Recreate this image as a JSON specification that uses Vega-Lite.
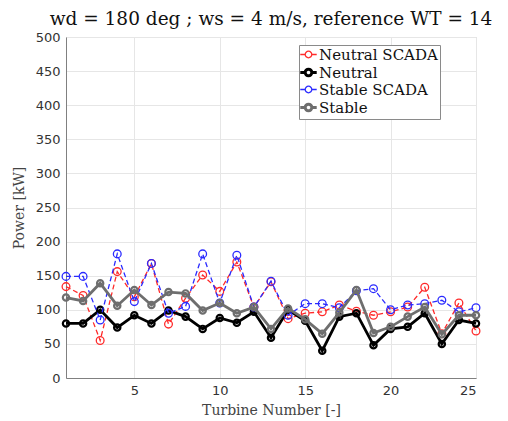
{
  "$schema": "https://vega.github.io/schema/vega-lite/v6.json",
  "width": 410,
  "height": 341,
  "autosize": "none",
  "padding": {"left": 66, "top": 37, "right": 32, "bottom": 43},
  "background": "white",
  "title": {"text": "wd = 180 deg ; ws = 4 m/s, reference WT = 14", "font": "DejaVu Serif", "fontSize": 18.5, "fontWeight": "normal", "color": "#111", "anchor": "middle", "offset": 3},
  "datasets": {
    "pw": [
      {"turbine": 1, "series": "Neutral SCADA", "power": 134}, {"turbine": 2, "series": "Neutral SCADA", "power": 121}, {"turbine": 3, "series": "Neutral SCADA", "power": 55}, {"turbine": 4, "series": "Neutral SCADA", "power": 156}, {"turbine": 5, "series": "Neutral SCADA", "power": 119}, {"turbine": 6, "series": "Neutral SCADA", "power": 168}, {"turbine": 7, "series": "Neutral SCADA", "power": 79}, {"turbine": 8, "series": "Neutral SCADA", "power": 117}, {"turbine": 9, "series": "Neutral SCADA", "power": 151}, {"turbine": 10, "series": "Neutral SCADA", "power": 127}, {"turbine": 11, "series": "Neutral SCADA", "power": 170}, {"turbine": 12, "series": "Neutral SCADA", "power": 104}, {"turbine": 13, "series": "Neutral SCADA", "power": 141}, {"turbine": 14, "series": "Neutral SCADA", "power": 87}, {"turbine": 15, "series": "Neutral SCADA", "power": 95}, {"turbine": 16, "series": "Neutral SCADA", "power": 97}, {"turbine": 17, "series": "Neutral SCADA", "power": 107}, {"turbine": 18, "series": "Neutral SCADA", "power": 98}, {"turbine": 19, "series": "Neutral SCADA", "power": 92}, {"turbine": 20, "series": "Neutral SCADA", "power": 97}, {"turbine": 21, "series": "Neutral SCADA", "power": 104}, {"turbine": 22, "series": "Neutral SCADA", "power": 133}, {"turbine": 23, "series": "Neutral SCADA", "power": 65}, {"turbine": 24, "series": "Neutral SCADA", "power": 110}, {"turbine": 25, "series": "Neutral SCADA", "power": 69},
      {"turbine": 1, "series": "Neutral", "power": 80}, {"turbine": 2, "series": "Neutral", "power": 80}, {"turbine": 3, "series": "Neutral", "power": 100}, {"turbine": 4, "series": "Neutral", "power": 74}, {"turbine": 5, "series": "Neutral", "power": 92}, {"turbine": 6, "series": "Neutral", "power": 80}, {"turbine": 7, "series": "Neutral", "power": 99}, {"turbine": 8, "series": "Neutral", "power": 90}, {"turbine": 9, "series": "Neutral", "power": 72}, {"turbine": 10, "series": "Neutral", "power": 88}, {"turbine": 11, "series": "Neutral", "power": 81}, {"turbine": 12, "series": "Neutral", "power": 97}, {"turbine": 13, "series": "Neutral", "power": 59}, {"turbine": 14, "series": "Neutral", "power": 100}, {"turbine": 15, "series": "Neutral", "power": 84}, {"turbine": 16, "series": "Neutral", "power": 40}, {"turbine": 17, "series": "Neutral", "power": 90}, {"turbine": 18, "series": "Neutral", "power": 95}, {"turbine": 19, "series": "Neutral", "power": 48}, {"turbine": 20, "series": "Neutral", "power": 72}, {"turbine": 21, "series": "Neutral", "power": 75}, {"turbine": 22, "series": "Neutral", "power": 95}, {"turbine": 23, "series": "Neutral", "power": 50}, {"turbine": 24, "series": "Neutral", "power": 85}, {"turbine": 25, "series": "Neutral", "power": 80},
      {"turbine": 1, "series": "Stable SCADA", "power": 149}, {"turbine": 2, "series": "Stable SCADA", "power": 149}, {"turbine": 3, "series": "Stable SCADA", "power": 85}, {"turbine": 4, "series": "Stable SCADA", "power": 182}, {"turbine": 5, "series": "Stable SCADA", "power": 112}, {"turbine": 6, "series": "Stable SCADA", "power": 168}, {"turbine": 7, "series": "Stable SCADA", "power": 95}, {"turbine": 8, "series": "Stable SCADA", "power": 105}, {"turbine": 9, "series": "Stable SCADA", "power": 182}, {"turbine": 10, "series": "Stable SCADA", "power": 110}, {"turbine": 11, "series": "Stable SCADA", "power": 180}, {"turbine": 12, "series": "Stable SCADA", "power": 104}, {"turbine": 13, "series": "Stable SCADA", "power": 142}, {"turbine": 14, "series": "Stable SCADA", "power": 92}, {"turbine": 15, "series": "Stable SCADA", "power": 109}, {"turbine": 16, "series": "Stable SCADA", "power": 109}, {"turbine": 17, "series": "Stable SCADA", "power": 103}, {"turbine": 18, "series": "Stable SCADA", "power": 128}, {"turbine": 19, "series": "Stable SCADA", "power": 131}, {"turbine": 20, "series": "Stable SCADA", "power": 100}, {"turbine": 21, "series": "Stable SCADA", "power": 107}, {"turbine": 22, "series": "Stable SCADA", "power": 109}, {"turbine": 23, "series": "Stable SCADA", "power": 114}, {"turbine": 24, "series": "Stable SCADA", "power": 97}, {"turbine": 25, "series": "Stable SCADA", "power": 103},
      {"turbine": 1, "series": "Stable", "power": 118}, {"turbine": 2, "series": "Stable", "power": 113}, {"turbine": 3, "series": "Stable", "power": 139}, {"turbine": 4, "series": "Stable", "power": 106}, {"turbine": 5, "series": "Stable", "power": 129}, {"turbine": 6, "series": "Stable", "power": 107}, {"turbine": 7, "series": "Stable", "power": 126}, {"turbine": 8, "series": "Stable", "power": 124}, {"turbine": 9, "series": "Stable", "power": 99}, {"turbine": 10, "series": "Stable", "power": 110}, {"turbine": 11, "series": "Stable", "power": 95}, {"turbine": 12, "series": "Stable", "power": 104}, {"turbine": 13, "series": "Stable", "power": 72}, {"turbine": 14, "series": "Stable", "power": 102}, {"turbine": 15, "series": "Stable", "power": 86}, {"turbine": 16, "series": "Stable", "power": 65}, {"turbine": 17, "series": "Stable", "power": 96}, {"turbine": 18, "series": "Stable", "power": 129}, {"turbine": 19, "series": "Stable", "power": 66}, {"turbine": 20, "series": "Stable", "power": 75}, {"turbine": 21, "series": "Stable", "power": 90}, {"turbine": 22, "series": "Stable", "power": 104}, {"turbine": 23, "series": "Stable", "power": 64}, {"turbine": 24, "series": "Stable", "power": 92}, {"turbine": 25, "series": "Stable", "power": 92}
    ]
  },
  "data": {"name": "pw"},
  "encoding": {
    "x": {"field": "turbine", "type": "quantitative", "scale": {"domain": [1, 25], "nice": false, "zero": false},
      "axis": {"values": [5, 10, 15, 20, 25], "title": "Turbine Number [-]", "titleFont": "DejaVu Serif", "titleFontSize": 14, "titleFontWeight": "normal", "titleColor": "#444", "titlePadding": 6}},
    "y": {"field": "power", "type": "quantitative", "scale": {"domain": [0, 500], "nice": false},
      "axis": {"values": [0, 50, 100, 150, 200, 250, 300, 350, 400, 450, 500], "title": "Power [kW]", "titleFont": "DejaVu Serif", "titleFontSize": 14, "titleFontWeight": "normal", "titleColor": "#444", "titlePadding": 9}},
    "color": {"field": "series", "type": "nominal",
      "scale": {"domain": ["Neutral SCADA", "Neutral", "Stable SCADA", "Stable"], "range": ["#ff2a2a", "#000000", "#2a2aff", "#6e6e6e"]},
      "legend": {"title": null, "orient": "none", "legendX": 233, "legendY": 8, "labelFont": "DejaVu Serif", "labelFontSize": 15, "labelColor": "#111", "labelLimit": 300,
        "strokeColor": "#8a8a8a", "fillColor": "white", "padding": 2, "rowPadding": 0, "symbolSize": 270, "labelOffset": 3,
        "symbolType": "M-1,0L-0.4,0M0.4,0L1,0M0.4,0A0.4,0.4,0,1,1,-0.4,0A0.4,0.4,0,1,1,0.4,0",
        "symbolStrokeWidth": 1.5,
        "encode": {"symbols": {"update": {"strokeWidth": {"signal": "datum.value === 'Neutral' || datum.value === 'Stable' ? 3 : 1.3"}, "fill": {"value": "transparent"}}}}}
    },
    "detail": {"field": "series"},
    "order": {"field": "turbine"}
  },
  "layer": [
    {"mark": {"type": "line", "strokeWidth": 1.3, "strokeDash": [5, 3]}, "transform": [{"filter": "datum.series === 'Neutral SCADA'"}]},
    {"mark": {"type": "point", "shape": "circle", "filled": false, "size": 60, "strokeWidth": 1.3, "opacity": 1}, "transform": [{"filter": "datum.series === 'Neutral SCADA'"}]},
    {"mark": {"type": "line", "strokeWidth": 2.8}, "transform": [{"filter": "datum.series === 'Neutral'"}]},
    {"mark": {"type": "point", "shape": "circle", "filled": false, "size": 40, "strokeWidth": 2.2, "opacity": 1}, "transform": [{"filter": "datum.series === 'Neutral'"}]},
    {"mark": {"type": "line", "strokeWidth": 1.3, "strokeDash": [5, 3]}, "transform": [{"filter": "datum.series === 'Stable SCADA'"}]},
    {"mark": {"type": "point", "shape": "circle", "filled": false, "size": 60, "strokeWidth": 1.3, "opacity": 1}, "transform": [{"filter": "datum.series === 'Stable SCADA'"}]},
    {"mark": {"type": "line", "strokeWidth": 2.8}, "transform": [{"filter": "datum.series === 'Stable'"}]},
    {"mark": {"type": "point", "shape": "circle", "filled": false, "size": 40, "strokeWidth": 2.2, "opacity": 1}, "transform": [{"filter": "datum.series === 'Stable'"}]}
  ],
  "config": {
    "view": {"stroke": "#d0d0d0"},
    "axis": {"domainColor": "#808080", "gridColor": "#e6e6e6", "grid": true, "ticks": false, "labelFont": "DejaVu Sans", "labelFontSize": 13, "labelColor": "#333", "labelPadding": 6}
  }
}
